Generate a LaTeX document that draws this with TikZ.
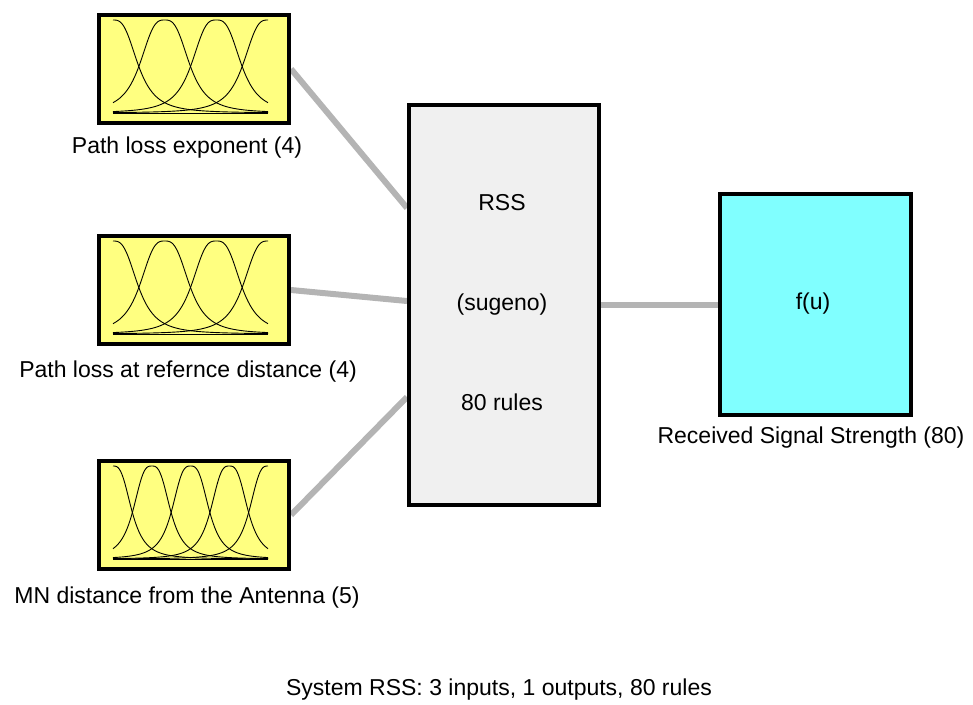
\documentclass[tikz,border=0pt]{standalone}
\usepackage{fontspec}
\setmainfont{Liberation Sans}
\usetikzlibrary{backgrounds}

\definecolor{mfyellow}{RGB}{255,255,128}
\definecolor{fisgray}{RGB}{240,240,240}
\definecolor{outcyan}{RGB}{128,255,255}
\definecolor{wiregray}{RGB}{180,180,180}

\tikzset{
  blockbox/.style={draw=black, line width=4pt, inner sep=0pt, anchor=north west},
  inputbox/.style={blockbox, fill=mfyellow, minimum width=190pt, minimum height=108pt},
  rulebox/.style={blockbox, fill=fisgray, minimum width=190pt, minimum height=400pt},
  outputbox/.style={blockbox, fill=outcyan, minimum width=191pt, minimum height=221pt},
  caption/.style={inner sep=0pt, font=\fontsize{23}{27}\selectfont},
  wire/.style={draw=wiregray, line width=6pt},
  mfcurve/.style={draw=black, line width=0.9pt, line join=round},
}

% generalized bell membership functions (b = 1.5) inside an input box
% #1 = box name, #2 = number of functions
\newcommand{\bellset}[2]{%
  \begin{scope}[shift={(#1.north west)}]
    \pgfmathsetmacro{\stepw}{155/(#2-1)}
    \pgfmathsetmacro{\halfw}{\stepw/2}
    \pgfmathtruncatemacro{\last}{#2-1}
    \foreach \k in {0,...,\last}{
      \pgfmathsetmacro{\ctr}{16+\k*\stepw}
      \draw[mfcurve] plot[domain=16:171, samples=120, smooth]
        (\x, {100 - 93/(1 + pow(abs((\x-\ctr)/\halfw),3))});
    }
    \draw[mfcurve] (16,100) -- (171,100);
  \end{scope}}

\begin{document}
\begin{tikzpicture}[x=1pt, y=-1pt]
  \useasboundingbox (0,0) rectangle (973,704);

  % input blocks with their membership functions
  \node[inputbox] (in1) at (97,13) {};
  \node[inputbox] (in2) at (97,234) {};
  \node[inputbox] (in3) at (97,459) {};
  \bellset{in1}{4}
  \bellset{in2}{4}
  \bellset{in3}{5}

  \node[caption] (lab1) at (187,148) {Path loss exponent (4)};
  \node[caption] (lab2) at (188,372) {Path loss at refernce distance (4)};
  \node[caption] (lab3) at (187,598) {MN distance from the Antenna (5)};

  % fuzzy inference system block
  \node[rulebox] (rss) at (407,103) {};
  \node[caption] (rssname) at (502,203) {RSS};
  \node[caption] (rsstype) at (502,305) {(sugeno)};
  \node[caption] (rssrules) at (502,402) {80 rules};

  % output block
  \node[outputbox] (out) at (718,192) {};
  \node[caption] (fu) at (813,304) {f(u)};
  \node[caption] (outlab) at (811,438) {Received Signal Strength (80)};

  % summary line
  \node[caption] (summary) at (499,690) {System RSS: 3 inputs, 1 outputs, 80 rules};

  % connectors behind the blocks
  \begin{pgfonlayer}{background}
    \draw[wire] (in1.east) -- ([yshift=97pt]rss.west);
    \draw[wire] (in2.east) -- ([yshift=4pt]rss.west);
    \draw[wire] (in3.east) -- ([yshift=-92pt]rss.west);
    \draw[wire] (rss.east) -- (rss.east -| out.west);
  \end{pgfonlayer}
\end{tikzpicture}
\end{document}
